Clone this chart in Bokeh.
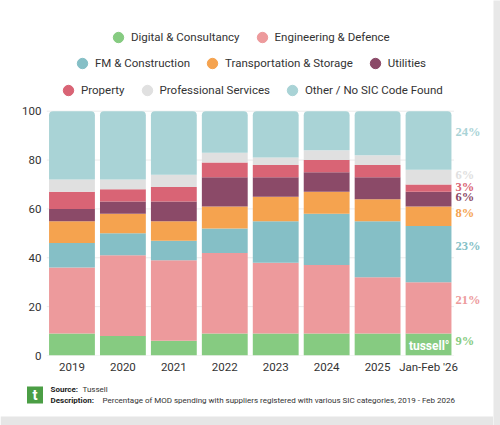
import numpy as np
from bokeh.plotting import figure
from bokeh.layouts import column, row
from bokeh.models import (ColumnDataSource, Range1d, FixedTicker, Legend, LegendItem,
                          LabelSet, Label)
from bokeh.core.properties import value
from bokeh.embed import file_html
from bokeh.resources import INLINE

# ---------------- data ----------------
years = ["2019", "2020", "2021", "2022", "2023", "2024", "2025", "Jan-Feb '26"]
digital = [9, 8, 6, 9, 9, 9, 9, 9]
engineering = [27, 33, 33, 33, 29, 28, 23, 21]
fm_construction = [10, 9, 8, 10, 17, 21, 23, 23]
transport = [9, 8, 8, 9, 10, 9, 9, 8]
utilities = [5, 5, 8, 12, 8, 8, 9, 6]
property_ = [7, 5, 6, 6, 5, 5, 5, 3]
professional = [5, 4, 5, 4, 3, 4, 4, 6]
other = [28, 28, 26, 17, 19, 16, 18, 24]

series_names = ["Digital & Consultancy", "Engineering & Defence", "FM & Construction",
                "Transportation & Storage", "Utilities", "Property",
                "Professional Services", "Other / No SIC Code Found"]
series_keys = ["digital", "engineering", "fm", "transport", "utilities",
               "property", "professional", "other"]
series_values = [digital, engineering, fm_construction, transport, utilities,
                 property_, professional, other]
colors = ["#86cb81", "#ed9a9c", "#85bfc6", "#f5a34f", "#8b4a68", "#d96475",
          "#e0e0e0", "#a9d3d6"]
y_ticks = [0, 20, 40, 60, 80, 100]
source_text = "Tussell"
description_text = ("Percentage of MOD spending with suppliers registered with various "
                    "SIC categories, 2019 - Feb 2026")

FONT = "Roboto"
TXT = "#333333"

# ---------------- layout constants ----------------
W = 493            # card width (shadow strip to the right)
SHADOW_W = 7
H_MAIN = 376
H_FOOT = 49
MB_L, MB_B = 46, 20
frame_w = W - MB_L
frame_h = H_MAIN - MB_B
bar_span_px = 407.5      # width covered by the 8 bar slots
top_gap = 111            # canvas top to the 100 line
n = len(years)
x_end = -0.5 + n * frame_w / bar_span_px
y_end = 100 * frame_h / (frame_h - top_gap)


def no_align(fig):
    try:
        fig.frame_align = False
    except Exception:
        pass


xi = list(range(n))
data = {"xi": xi}
for k, v in zip(series_keys, series_values):
    data[k] = v
source = ColumnDataSource(data)

p = figure(x_range=Range1d(-0.5, x_end), y_range=Range1d(0, y_end),
           width=W, height=H_MAIN, output_backend="svg", toolbar_location=None,
           min_border_left=MB_L, min_border_right=0, min_border_top=0,
           min_border_bottom=MB_B)
no_align(p)
p.outline_line_color = None
p.background_fill_color = "white"
p.border_fill_color = "white"

# grid lines only across the bar area
p.xgrid.grid_line_color = None
p.ygrid.grid_line_color = None
p.segment(x0=-0.5, x1=n - 0.5, y0=y_ticks, y1=y_ticks, line_color="#ebebeb",
          line_width=1, level="underlay")

bars = p.vbar_stack(series_keys, x="xi", width=0.9, color=colors,
                    line_color=None, source=source)
try:
    bars[-1].glyph.border_radius = (4, 4, 0, 0)
except Exception:
    pass

# axes
p.xaxis.ticker = FixedTicker(ticks=xi)
p.xaxis.major_label_overrides = {i: y for i, y in enumerate(years)}
p.yaxis.ticker = FixedTicker(ticks=y_ticks)
for ax in (p.xaxis[0], p.yaxis[0]):
    ax.axis_line_color = None
    ax.major_tick_line_color = None
    ax.minor_tick_line_color = None
    ax.major_tick_out = 0
    ax.major_tick_in = 0
    ax.minor_tick_out = 0
    ax.minor_tick_in = 0
    ax.major_label_text_font = FONT
    ax.major_label_text_font_size = "11.5px"
    ax.major_label_text_color = TXT
p.yaxis.major_label_standoff = 5
p.xaxis.major_label_standoff = 4

# legend rows (three centred rows); invisible markers give the legend its dots
dots = [p.scatter(x="xi", y=k, source=source, marker="circle", size=0, color=c)
        for k, c in zip(series_keys, colors)]
rows = [[0, 1], [2, 3, 4], [5, 6, 7]]
row_pos = [(59, 305), (23, 279), (9, 252)]
for r, loc in zip(rows, row_pos):
    lg = Legend(items=[LegendItem(label=series_names[i], renderers=[dots[i]]) for i in r],
                orientation="horizontal", location=loc, margin=0, padding=0,
                spacing=9, glyph_width=26, glyph_height=26, label_height=26,
                label_standoff=0, label_text_font=FONT, label_text_font_size="11.5px",
                label_text_color=TXT, background_fill_alpha=0, border_line_color=None)
    p.add_layout(lg)

# right-hand percentage labels for the last bar
last = [v[-1] for v in series_values]
bottoms = np.concatenate([[0], np.cumsum(last)[:-1]])
lab_y = bottoms + 0.65 * np.array(last)
lab_src = ColumnDataSource(dict(x=[xi[-1]] * len(last), y=list(lab_y),
                                text=[f"{v}%" for v in last], color=colors))
p.add_layout(LabelSet(x="x", y="y", text="text", source=lab_src, x_offset=27,
                      text_align="left", text_baseline="middle",
                      text_color="color", text_font=FONT, text_font_size="12.5px",
                      text_font_style="bold"))

# watermark
p.add_layout(Label(x=403, y=10, x_units="screen", y_units="screen", text="tussell°",
                   text_align="right", text_baseline="middle", text_color="white",
                   text_font=FONT, text_font_size="12px", text_font_style="bold"))

# ---------------- footer (source / description) ----------------
f = figure(x_range=Range1d(0, W), y_range=Range1d(0, H_FOOT), width=W, height=H_FOOT,
           output_backend="svg", toolbar_location=None, x_axis_type=None,
           y_axis_type=None, min_border=0)
no_align(f)
f.outline_line_color = None
f.xgrid.visible = False
f.ygrid.visible = False
f.background_fill_color = "white"
f.border_fill_color = "white"
# card shadow at the bottom
f.quad(left=0, right=W, bottom=0, top=9, fill_color="#e6e6e6", line_color=None)
# logo
f.rect(x=34.5, y=30.5, width=16, height=17, fill_color="#4b9e45", line_color=None)
f.text(x=[34.5], y=[30.5], text=["t"], text_align="center", text_baseline="middle",
       text_color="white", text_font=value(FONT), text_font_size="15px",
       text_font_style="bold")
f.text(x=[50], y=[36], text=["Source:"], text_baseline="middle", text_color="#222222",
       text_font=value(FONT), text_font_size="8px", text_font_style="bold")
f.text(x=[82], y=[36], text=[source_text], text_baseline="middle", text_color=TXT,
       text_font=value(FONT), text_font_size="8px")
f.text(x=[50], y=[25], text=["Description:"], text_baseline="middle",
       text_color="#222222", text_font=value(FONT), text_font_size="8px",
       text_font_style="bold")
f.text(x=[102], y=[25], text=[description_text], text_baseline="middle",
       text_color=TXT, text_font=value(FONT), text_font_size="8px")

# right-hand card shadow strip
s = figure(x_range=Range1d(0, 1), y_range=Range1d(0, 1), width=SHADOW_W,
           height=H_MAIN + H_FOOT, output_backend="svg", toolbar_location=None,
           x_axis_type=None, y_axis_type=None, min_border=0)
no_align(s)
s.outline_line_color = None
s.xgrid.visible = False
s.ygrid.visible = False
s.background_fill_color = "#e8e8e8"
s.border_fill_color = "#e8e8e8"

layout = row(column(p, f, spacing=0), s, spacing=0)
open("out.html", "w").write(file_html(layout, INLINE))
